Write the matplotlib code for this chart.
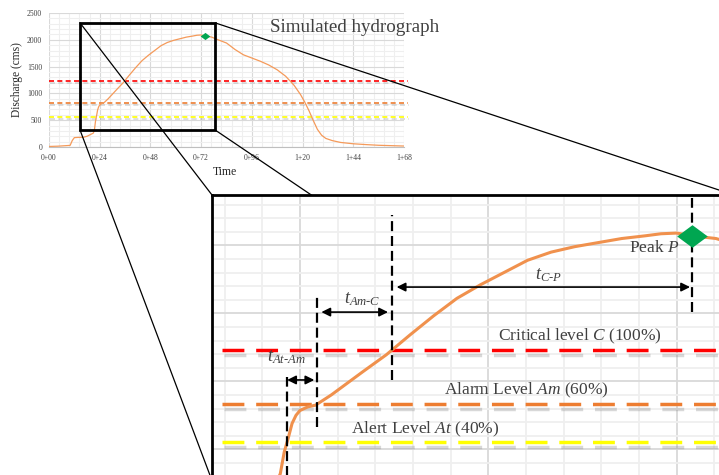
import numpy as np
import matplotlib.pyplot as plt
import matplotlib.patheffects as pe
from matplotlib.patches import Rectangle, ConnectionPatch
from matplotlib.path import Path
from matplotlib.ticker import MultipleLocator

plt.rcParams['font.family'] = 'Liberation Serif'
plt.rcParams['mathtext.fontset'] = 'custom'
plt.rcParams['mathtext.rm'] = 'Liberation Serif'
plt.rcParams['mathtext.it'] = 'Liberation Serif:italic'

# simulated discharge (cms) against elapsed time (h)
time_h = [0, 4, 8, 10, 11, 12, 14, 16, 18, 20, 21, 21.5, 22, 22.5, 23, 23.5, 24, 25, 26, 28,
          30, 32, 35, 38, 41, 44, 47, 50, 53, 56, 59, 62, 65, 68, 70, 72, 74, 77, 80, 84,
          88, 92, 96, 100, 104, 108, 112, 116, 119, 121, 123, 125, 127, 129, 131, 134, 138, 144, 150, 156,
          162, 168]
discharge = [10, 15, 25, 30, 120, 175, 180, 180, 200, 240, 260, 320, 480, 580, 690, 750, 785, 812, 825, 900,
             985, 1070, 1195, 1340, 1480, 1610, 1710, 1800, 1890, 1950, 1990, 2020, 2050, 2070, 2085, 2090, 2070, 2050, 2000, 1940,
             1820, 1720, 1660, 1600, 1530, 1440, 1320, 1150, 980, 840, 680, 500, 330, 220, 160, 120, 85, 60, 45, 32,
             25, 18]

tick_hours = [0, 24, 48, 72, 96, 120, 144, 168]
tick_labels = ['0+00', '0+24', '0+48', '0+72', '0+96', '1+20', '1+44', '1+68']

level_names = ['Critical level $C$ (100%)', 'Alarm Level $Am$ (60%)', 'Alert Level $At$ (40%)']
level_values = [1230, 830, 555]
level_colors = ['#FF0000', '#ED7D31', '#FFFF00']

peak_time = 74
peak_q = 2068

# zoomed window (h, cms)
zoom_t = (14.7, 78.7)
zoom_q = (315, 2315)

time_h = np.array(time_h, dtype=float)
discharge = np.array(discharge, dtype=float)

# time each level is reached on the rising limb
rising = time_h <= 72
t_alert, t_alarm, t_crit = [np.interp(v, discharge[rising], time_h[rising])
                            for v in level_values[::-1]]

W, H = 719, 475
fig = plt.figure(figsize=(W / 100, H / 100), dpi=100)


def px_box(x0, y0, x1, y1):
    return [x0 / W, 1 - y1 / H, (x1 - x0) / W, (y1 - y0) / H]


def grid_setup(a, lw):
    a.xaxis.set_major_locator(MultipleLocator(24))
    a.xaxis.set_minor_locator(MultipleLocator(4.8))
    a.yaxis.set_major_locator(MultipleLocator(500))
    a.yaxis.set_minor_locator(MultipleLocator(100))
    a.grid(which='minor', color='#EFEFEF', lw=lw)
    a.grid(which='major', color='#D9D9D9', lw=lw)
    a.set_axisbelow(True)
    a.tick_params(which='both', length=0)


diamond = Path([(0, 1), (1.35, 0), (0, -1), (-1.35, 0), (0, 1)],
               [Path.MOVETO, Path.LINETO, Path.LINETO, Path.LINETO, Path.CLOSEPOLY])

# ---- full hydrograph
ax = fig.add_axes(px_box(49, 13, 404, 147))
ax.set_xlim(0, 168)
ax.set_ylim(0, 2500)
grid_setup(ax, 0.8)
for s in ['left', 'top', 'right']:
    ax.spines[s].set_visible(False)
ax.spines['bottom'].set_color('#BFBFBF')
ax.set_xticks(tick_hours)
ax.set_xticklabels(tick_labels)
ax.tick_params(labelsize=5.5, labelcolor='#404040', pad=5)
ax.set_ylabel('Discharge (cms)', fontsize=8.3, color='#262626')
ax.yaxis.set_label_coords(-0.073, 0.5)
ax.set_xlabel('Time', fontsize=8.5, color='#262626')
ax.xaxis.set_label_coords(0.496, -0.14)

for v, c in zip(level_values, level_colors):
    ax.plot([0, 170], [v, v], color=c, lw=1.2, dashes=(3, 2), clip_on=False,
            path_effects=[pe.SimpleLineShadow(offset=(0.5, -1.5), shadow_color='#808080', alpha=0.3),
                          pe.Normal()])
ax.plot(time_h, discharge, color='#F59A5A', lw=0.9)
ax.plot(peak_time, peak_q, marker=diamond, ms=7, color='#00A651', mec='none', zorder=5)
ax.add_patch(Rectangle((zoom_t[0], zoom_q[0]), zoom_t[1] - zoom_t[0], zoom_q[1] - zoom_q[0],
                       fill=False, ec='black', lw=2, clip_on=False, zorder=6))

fig.text(355 / W, 1 - 27 / H, 'Simulated hydrograph', fontsize=13.7, ha='center', va='center',
         color='#404040')

# ---- enlarged rising limb
axz = fig.add_axes(px_box(212, 195, 734, 480.6))
axz.set_zorder(5)
axz.set_facecolor('white')
axz.set_xlim(12.8, 79.3)
axz.set_ylim(270, 2370)
grid_setup(axz, 1.3)
axz.tick_params(which='both', labelbottom=False, labelleft=False)
for s in ['bottom', 'right']:
    axz.spines[s].set_visible(False)
for s in ['top', 'left']:
    axz.spines[s].set_linewidth(2)
    axz.spines[s].set_color('black')

for v, c in zip(level_values, level_colors):
    axz.plot([14.1, 80], [v, v], color=c, lw=2.5, dashes=(6.3, 3.4),
             path_effects=[pe.SimpleLineShadow(offset=(1, -3.5), shadow_color='#808080', alpha=0.3),
                           pe.Normal()])
axz.plot(time_h, discharge, color='#F0914D', lw=2.2)

# reach times of each level
vdash = dict(color='black', lw=1.6, dashes=(4.5, 2.2))
axz.plot([t_alert, t_alert], [200, 1031], **vdash)
axz.plot([t_alarm, t_alarm], [664, 1627], **vdash)
axz.plot([t_crit, t_crit], [1010, 2223], **vdash)
axz.plot([peak_time, peak_time], [1509, 2348], **vdash)
axz.plot(peak_time, peak_q, marker=diamond, ms=22, color='#00A651', mec='none', zorder=5)

arrow = dict(arrowstyle='<|-|>', color='black', lw=1.2, mutation_scale=13, shrinkA=0, shrinkB=0)
axz.annotate('', xy=(t_alert, 1010), xytext=(t_alarm - 0.3, 1010), arrowprops=arrow)
axz.annotate('', xy=(t_alarm + 0.6, 1509), xytext=(t_crit - 0.5, 1509), arrowprops=arrow)
axz.annotate('', xy=(t_crit + 0.6, 1693), xytext=(peak_time - 0.3, 1693), arrowprops=arrow)

txt = dict(ha='center', va='center', color='#404040')
axz.text(22.3, 1178, r'$t_{At\text{-}Am}$', fontsize=13, **txt)
axz.text(31.9, 1605, r'$t_{Am\text{-}C}$', fontsize=13, **txt)
axz.text(55.7, 1781, r'$t_{C\text{-}P}$', fontsize=13, **txt)
axz.text(69.1, 1980, r'Peak $P$', fontsize=12.5, **txt)
for name, pos in zip(level_names, [(59.7, 1333), (52.8, 936), (40.0, 649)]):
    axz.text(*pos, name, fontsize=12.5, **txt)

# lines from the zoom box corners to the enlarged panel
corners = [((zoom_t[0], zoom_q[1]), (0, 1)), ((zoom_t[0], zoom_q[0]), (0, 0)),
           ((zoom_t[1], zoom_q[0]), (1, 0)), ((zoom_t[1], zoom_q[1]), (1, 1))]
for a, b in corners:
    con = ConnectionPatch(xyA=a, coordsA='data', axesA=ax, xyB=b, coordsB='axes fraction',
                          axesB=axz, color='black', lw=0.9)
    fig.add_artist(con)

fig.savefig('out.png', dpi=100)
